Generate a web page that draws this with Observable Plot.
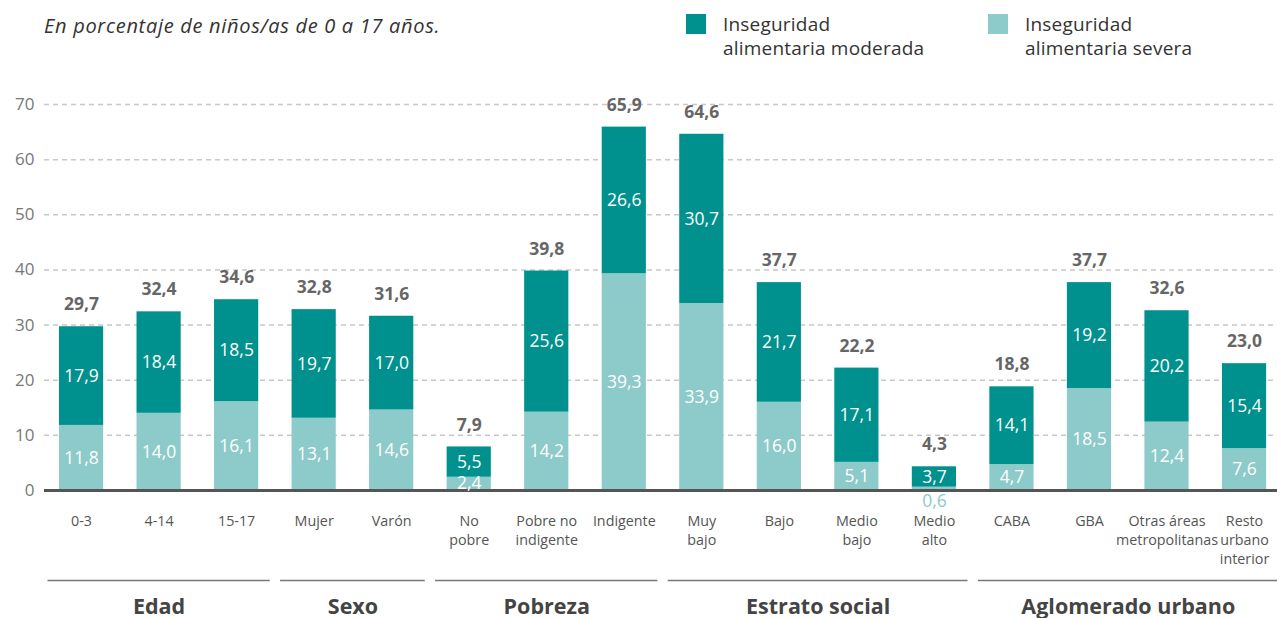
<!DOCTYPE html>
<html><head><meta charset="utf-8">
<script src="https://cdn.jsdelivr.net/npm/d3@7"></script>
<script src="https://cdn.jsdelivr.net/npm/@observablehq/plot@0.6"></script>
<style>
body{margin:0;background:#fff;font-family:"Open Sans",sans-serif;}
#header{position:relative;height:62px;width:1277px;}
#header .sub{position:absolute;left:44px;top:12px;font-size:20px;letter-spacing:0.7px;font-style:italic;color:#333;line-height:27px;}
#header .sw{position:absolute;top:14px;width:20px;height:20px;}
#header .lt{position:absolute;top:12px;font-size:19px;color:#333;line-height:24px;white-space:nowrap;letter-spacing:0.2px;}
</style></head><body>
<div id="header"></div>
<div id="chart"></div>
<script>
const subtitle = "En porcentaje de niños/as de 0 a 17 años.";
const series = ["Inseguridad\nalimentaria moderada", "Inseguridad\nalimentaria severa"];
const seriesColors = ["#00918E", "#8DCACA"];
const categories = ["0-3","4-14","15-17","Mujer","Varón","No\npobre","Pobre no\nindigente","Indigente","Muy\nbajo","Bajo","Medio\nbajo","Medio\nalto","CABA","GBA","Otras áreas\nmetropolitanas","Resto\nurbano\ninterior"];
const severa   = [11.8,14.0,16.1,13.1,14.6,2.4,14.2,39.3,33.9,16.0,5.1,0.6,4.7,18.5,12.4,7.6];
const moderada = [17.9,18.4,18.5,19.7,17.0,5.5,25.6,26.6,30.7,21.7,17.1,3.7,14.1,19.2,20.2,15.4];
const totales  = [29.7,32.4,34.6,32.8,31.6,7.9,39.8,65.9,64.6,37.7,22.2,4.3,18.8,37.7,32.6,23.0];
const grupos = ["Edad","Sexo","Pobreza","Estrato social","Aglomerado urbano"];
const grupoTamanos = [3,2,3,4,4];
const yTicks = [0,10,20,30,40,50,60,70];

const fmt = v => v.toFixed(1).replace(".", ",");

// header (subtitle + legend)
const header = document.getElementById("header");
const sub = document.createElement("div"); sub.className = "sub"; sub.textContent = subtitle; header.appendChild(sub);
const legendLefts = [686, 988];
series.forEach((s, i) => {
  const sw = document.createElement("div"); sw.className = "sw";
  sw.style.left = legendLefts[i] + "px"; sw.style.background = seriesColors[i]; header.appendChild(sw);
  const lt = document.createElement("div"); lt.className = "lt";
  lt.style.left = (legendLefts[i] + 37) + "px";
  lt.innerHTML = s.split("\n").join("<br>"); header.appendChild(lt);
});

// data rows
const rows = [];
categories.forEach((c, i) => {
  rows.push({cat: c, serie: "severa", value: severa[i], mid: severa[i] / 2});
  rows.push({cat: c, serie: "moderada", value: moderada[i], mid: severa[i] + moderada[i] / 2});
});

// groups
const groupData = [];
let k = 0;
grupos.forEach((g, i) => {
  const members = categories.slice(k, k + grupoTamanos[i]);
  k += grupoTamanos[i];
  const n = members.length;
  groupData.push({name: g, first: members[0], last: members[n - 1],
    odd: n % 2 === 1, mid: n % 2 === 1 ? members[(n - 1) / 2] : members[n / 2 - 1]});
});

const chart = Plot.plot({
  width: 1277,
  height: 556,
  marginTop: 42,
  marginBottom: 128,
  marginLeft: 44,
  marginRight: 0,
  style: {fontFamily: "'Open Sans', sans-serif", background: "white", overflow: "visible"},
  x: {type: "band", domain: categories, range: [42.3, 1282.8], paddingInner: 0.43, paddingOuter: 0.215, round: false, axis: null},
  y: {domain: [0, 70], axis: null},
  color: {domain: ["moderada", "severa"], range: seriesColors},
  marks: [
    Plot.ruleY(yTicks.filter(d => d > 0), {stroke: "#c8c8c8", strokeWidth: 1.5, strokeDasharray: "5,4"}),
    Plot.text(yTicks, {y: d => d, text: d => String(d), frameAnchor: "left", textAnchor: "end", dx: -10, fontSize: 17, fill: "#777"}),
    Plot.barY(rows, {x: "cat", y: "value", fill: "serie"}),
    Plot.ruleY([0], {stroke: "#555", strokeWidth: 3}),
    Plot.text(rows.filter(d => d.value >= 1), {x: "cat", y: "mid", text: d => fmt(d.value), fill: "white", fontSize: 17.5}),
    Plot.text(rows.filter(d => d.value < 1), {x: "cat", y: 0, text: d => fmt(d.value), fill: seriesColors[1], fontSize: 17.5, dy: 11}),
    Plot.text(categories, {x: d => d, y: (d, i) => totales[i], text: (d, i) => fmt(totales[i]), dy: -22, fontSize: 17.5, fontWeight: "bold", fill: "#666"}),
    Plot.text(categories, {x: d => d, text: d => d, frameAnchor: "bottom", lineAnchor: "top", dy: 22, fontSize: 14.3, fill: "#555", lineHeight: 1.33}),
    Plot.ruleY(groupData, {x1: "first", x2: "last", y: () => 0, dy: 90, insetLeft: -11.5, insetRight: -11.5, stroke: "#777", strokeWidth: 1.5}),
    Plot.text(groupData.filter(d => d.odd), {x: "mid", text: "name", frameAnchor: "bottom", dy: 123, fontSize: 21.5, fontWeight: "bold", fill: "#444"}),
    Plot.text(groupData.filter(d => !d.odd), {x: "mid", text: "name", frameAnchor: "bottom", dy: 123, dx: 38.8, fontSize: 21.5, fontWeight: "bold", fill: "#444"})
  ]
});
document.getElementById("chart").appendChild(chart);
</script>
</body></html>
